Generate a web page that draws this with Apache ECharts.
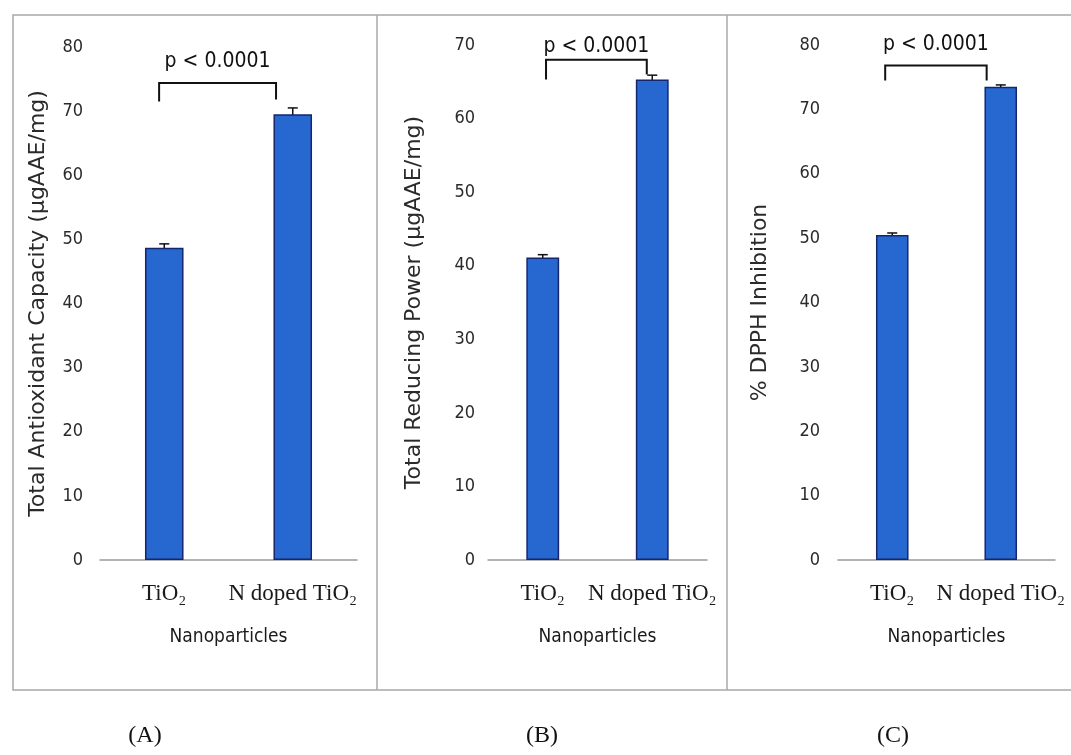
<!DOCTYPE html>
<html>
<head>
<meta charset="utf-8">
<script src="https://cdn.jsdelivr.net/npm/echarts@6/dist/echarts.min.js"></script>
<style>
html,body{margin:0;padding:0;background:#fff;}
#main{width:1071px;height:755px;}
</style>
</head>
<body>
<div id="main"></div>
<script>
// ---- data ----
const categories = ['TiO\u2082', 'N doped TiO\u2082'];
const antioxidantCapacity = [48.7, 69.5];
const antioxidantError = [0.6, 1.0];
const reducingPower = [41.1, 65.3];
const reducingError = [0.4, 0.6];
const dpphInhibition = [50.5, 73.5];
const dpphError = [0.3, 0.3];
const yMax = [80, 70, 80];
const yInterval = 10;
const yTitles = ['Total Antioxidant Capacity (\u00b5gAAE/mg)', 'Total Reducing Power (\u00b5gAAE/mg)', '% DPPH Inhibition'];
const xTitle = 'Nanoparticles';
const panelLabels = ['(A)', '(B)', '(C)'];
const pValueText = 'p < 0.0001';
// bracket annotation values (data units)
const bracketTop = [74.4, 68.0, 76.8];
const bracketLegLeft = [71.5, 65.3, 74.5];
const bracketLegRight = [71.8, 66.0, 74.5];
const bracketLabelY = [77.7, 69.8, 80.0];

// ---- layout / style ----
const grids = [
  {left: 100, width: 257, top: 47, bottom: 195},
  {left: 488, width: 219, top: 45, bottom: 195},
  {left: 838, width: 217, top: 45, bottom: 195}
];
const bracketX = [[-0.04, 0.87], [0.03, 0.95], [-0.065, 0.87]];
const yNameGap = [51, 63, 67];
const yLabelMargin = [17, 13, 18];
const narrow = '"Liberation Sans Narrow","DejaVu Sans Condensed","Arial Narrow",sans-serif';
const serif = '"Liberation Serif","DejaVu Serif","Times New Roman",serif';
const barColor = '#2767d0';
const barBorder = '#14266e';

const values = [antioxidantCapacity, reducingPower, dpphInhibition];
const errors = [antioxidantError, reducingError, dpphError];

const chart = echarts.init(document.getElementById('main'), null, {renderer: 'canvas'});

const xAxes = [], yAxes = [], series = [];
for (let i = 0; i < 3; i++) {
  xAxes.push({
    type: 'category', gridIndex: i, data: categories,
    axisLine: {lineStyle: {color: '#9a9a9a', width: 1.5}},
    axisTick: {show: false},
    axisLabel: {fontFamily: serif, fontSize: 23, color: '#1a1a1a', margin: 22, interval: 0},
    name: xTitle, nameLocation: 'middle', nameGap: 68,
    nameTextStyle: {fontFamily: narrow, fontSize: 19, color: '#1a1a1a'}
  });
  yAxes.push({
    type: 'value', gridIndex: i, min: 0, max: yMax[i], interval: yInterval,
    axisLine: {show: false}, axisTick: {show: false}, splitLine: {show: false},
    axisLabel: {fontFamily: narrow, fontSize: 18, color: '#2a2a2a', margin: yLabelMargin[i]},
    name: yTitles[i], nameLocation: 'middle', nameGap: yNameGap[i], nameRotate: 90,
    nameTextStyle: {fontFamily: '"DejaVu Sans",Verdana,sans-serif', fontSize: 22, color: '#2a2a2a'}
  });
  series.push({
    type: 'bar', xAxisIndex: i, yAxisIndex: i, data: values[i], barWidth: '30%',
    itemStyle: {color: barColor, borderColor: barBorder, borderWidth: 1.5},
    silent: true, animation: false
  });
  const errData = values[i].map((v, k) => [k, v - errors[i][k], v + errors[i][k]]);
  series.push({
    type: 'custom', xAxisIndex: i, yAxisIndex: i, data: errData, animation: false, silent: true,
    renderItem: function (params, api) {
      const x = api.value(0);
      const lo = api.coord([x, api.value(1)]);
      const hi = api.coord([x, api.value(2)]);
      const hw = 5;
      return {
        type: 'group',
        children: [
          {type: 'line', shape: {x1: lo[0], y1: lo[1], x2: hi[0], y2: hi[1]}, style: {stroke: '#111', lineWidth: 1.5}},
          {type: 'line', shape: {x1: hi[0] - hw, y1: hi[1], x2: hi[0] + hw, y2: hi[1]}, style: {stroke: '#111', lineWidth: 1.5}},
          {type: 'line', shape: {x1: lo[0] - hw, y1: lo[1], x2: lo[0] + hw, y2: lo[1]}, style: {stroke: '#111', lineWidth: 1.5}}
        ]
      };
    }
  });
  const idx = i;
  series.push({
    type: 'custom', xAxisIndex: i, yAxisIndex: i, data: [[0, bracketTop[i]]], animation: false, silent: true,
    renderItem: function (params, api) {
      const base = api.coord([0, bracketTop[idx]]);
      const bw = api.size([1, 0])[0];
      const xl = base[0] + bracketX[idx][0] * bw;
      const xr = base[0] + bracketX[idx][1] * bw;
      const yt = base[1];
      const yl = api.coord([0, bracketLegLeft[idx]])[1];
      const yr = api.coord([0, bracketLegRight[idx]])[1];
      const yText = api.coord([0, bracketLabelY[idx]])[1];
      return {
        type: 'group',
        children: [
          {type: 'polyline', shape: {points: [[xl, yl], [xl, yt], [xr, yt], [xr, yr]]}, style: {stroke: '#111', lineWidth: 2, fill: null}},
          {type: 'text', x: (xl + xr) / 2, y: yText, style: {text: pValueText, fontFamily: narrow, fontSize: 21, fill: '#111', align: 'center', verticalAlign: 'middle'}}
        ]
      };
    }
  });
}

const graphics = [
  {type: 'rect', shape: {x: 13, y: 15, width: 1080, height: 675}, style: {fill: null, stroke: '#a8a8a8', lineWidth: 1.5}, silent: true, z: -1},
  {type: 'line', shape: {x1: 377, y1: 15, x2: 377, y2: 690}, style: {stroke: '#a8a8a8', lineWidth: 1.5}, silent: true, z: -1},
  {type: 'line', shape: {x1: 727, y1: 15, x2: 727, y2: 690}, style: {stroke: '#a8a8a8', lineWidth: 1.5}, silent: true, z: -1}
];
const labelCenters = [145, 542, 893];
panelLabels.forEach((t, i) => {
  graphics.push({type: 'text', x: labelCenters[i], y: 736, style: {text: t, fontFamily: serif, fontSize: 24, fill: '#111', align: 'center', verticalAlign: 'middle'}, silent: true});
});

chart.setOption({
  animation: false,
  backgroundColor: '#ffffff',
  grid: grids,
  xAxis: xAxes,
  yAxis: yAxes,
  series: series,
  graphic: graphics
});
</script>
</body>
</html>
